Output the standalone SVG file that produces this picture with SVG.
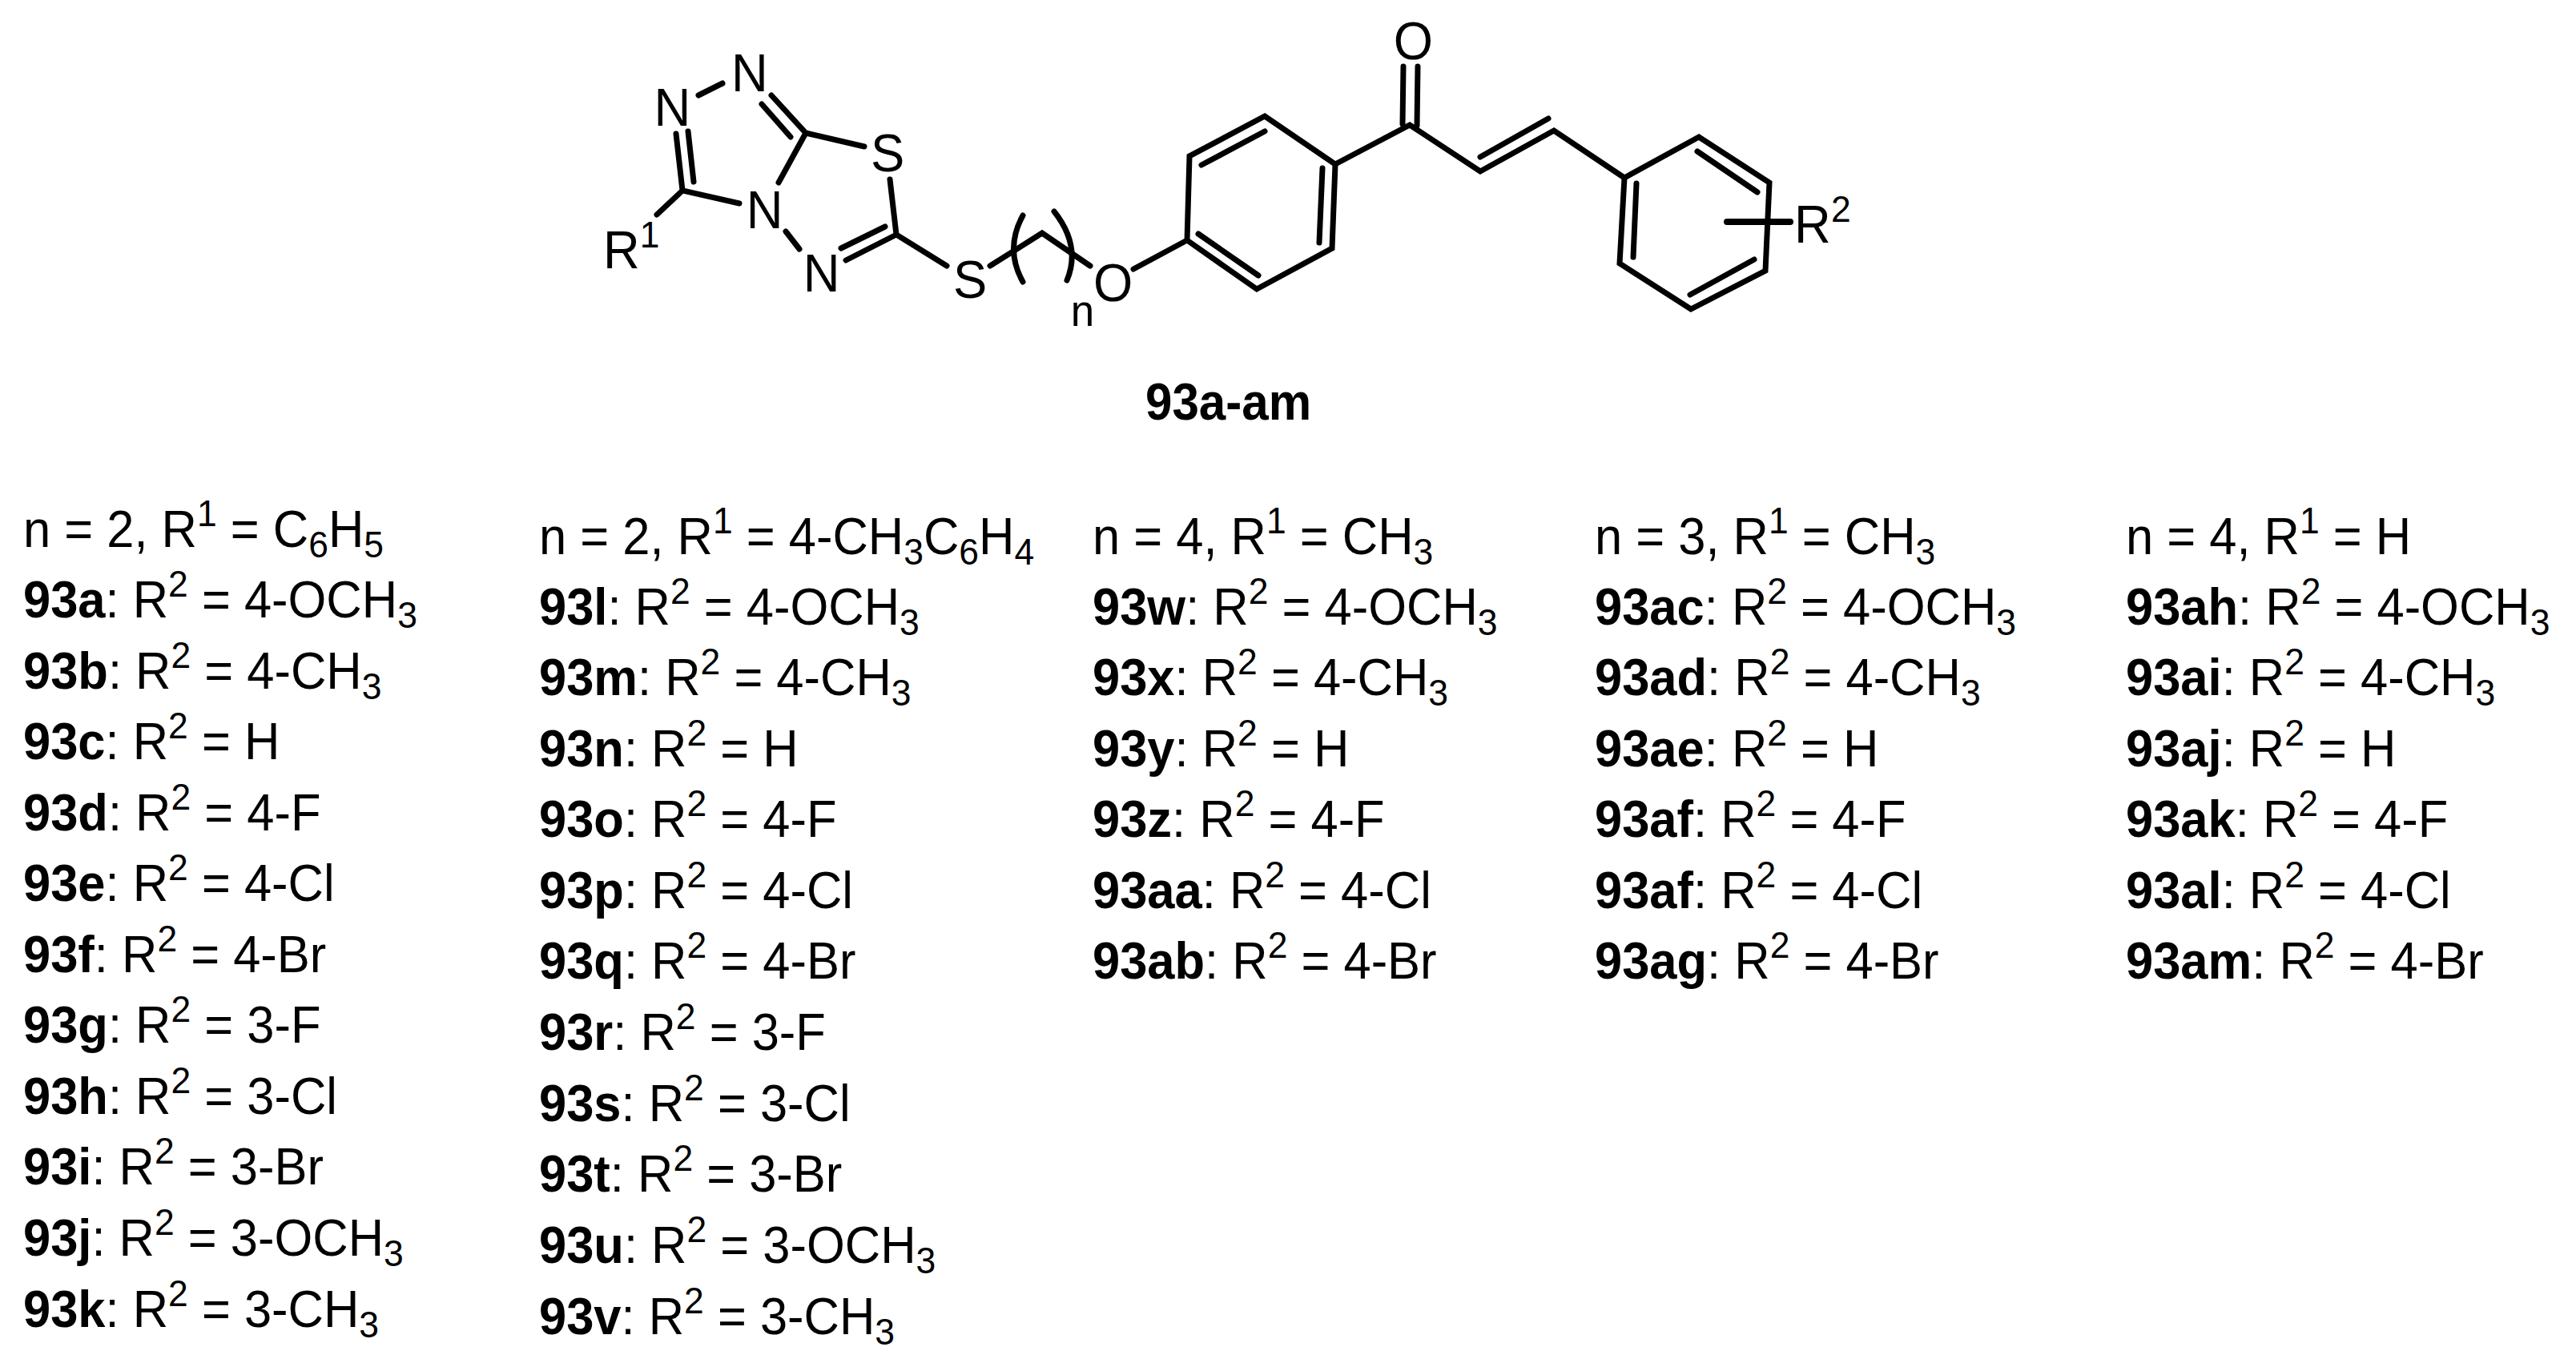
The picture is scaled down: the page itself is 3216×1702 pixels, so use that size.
<svg xmlns="http://www.w3.org/2000/svg" width="3216" height="1702" viewBox="0 0 3216 1702">
<style>
text{font-family:"Liberation Sans",Arial,sans-serif;font-size:65px;fill:#000}
.a{font-size:67px}
.b{font-weight:bold}
.u{font-size:47px;baseline-shift:26px}
.d{font-size:47px;baseline-shift:-13px}
#bonds path{fill:none;stroke:#000;stroke-width:7;stroke-linecap:round;stroke-linejoin:miter}
#bonds path.h{stroke-width:8}
</style>
<rect width="3216" height="1702" fill="#fff"/>
<g id="bonds">
<path d="M872 119L902 104"/>
<path d="M963 119L1006 166L1079 183M951 130L987 171M1006 166L972 228"/>
<path d="M844 167L852 238L923 254M859 164L866 227M852 238L820 268"/>
<path d="M981 289L998 311M1056 325L1119 293M1050 310L1105 283M1111 224L1119 293L1182 332"/>
<path d="M1236 332L1301 291L1361 332"/>
<path d="M1277 269Q1254 311 1277 352M1316 264Q1350 307 1332 350"/>
<path d="M1415 336L1482 300L1485 195L1579 145L1667 205L1663 310L1569 361L1482 300"/>
<path d="M1500 206L1579 164M1651 210L1647 303M1496 292L1571 344"/>
<path d="M1667 205L1760 156L1848 214L1940 163L2028 222M1848 196L1933 148M1752 83L1751 155M1770 83L1769 157"/>
<path d="M2028 222L2121 171L2209 228L2204 338L2111 386L2022 329Z"/>
<path d="M2043 229L2039 321M2119 189L2194 240M2190 324L2110 368"/>
<path class="h" d="M2156 277L2235 277"/>
</g>
<g id="atoms" transform="scale(.946 1)">
<text id="n1" class="a" x="863" y="157">N</text>
<text id="n2" class="a" x="965" y="114">N</text>
<text id="s1" class="a" x="1149" y="214">S</text>
<text id="n3" class="a" x="985" y="285">N</text>
<text id="n4" class="a" x="1060" y="364">N</text>
<text id="r1" class="a" x="796" y="335">R<tspan class="u">1</tspan></text>
<text id="s2" class="a" x="1258" y="372">S</text>
<text id="o1" class="a" x="1443" y="376">O</text>
<text id="n" x="1413" y="407" style="font-size:56px">n</text>
<text id="o2" class="a" x="1839" y="74">O</text>
<text id="r2" class="a" x="2368" y="303">R<tspan class="u">2</tspan></text>
</g>
<g id="title-label" transform="translate(1430 0) scale(.925 1)"><text id="title" class="b" x="0" y="524">93a-am</text></g>
<g id="col1" transform="translate(29 0) scale(.946 1)">
<text x="0" y="683">n = 2, R<tspan class="u">1</tspan> = C<tspan class="d">6</tspan>H<tspan class="d">5</tspan></text>
<text x="0" y="771"><tspan class="b">93a</tspan>: R<tspan class="u">2</tspan> = 4-OCH<tspan class="d">3</tspan></text>
<text x="0" y="860"><tspan class="b">93b</tspan>: R<tspan class="u">2</tspan> = 4-CH<tspan class="d">3</tspan></text>
<text x="0" y="948"><tspan class="b">93c</tspan>: R<tspan class="u">2</tspan> = H</text>
<text x="0" y="1037"><tspan class="b">93d</tspan>: R<tspan class="u">2</tspan> = 4-F</text>
<text x="0" y="1125"><tspan class="b">93e</tspan>: R<tspan class="u">2</tspan> = 4-Cl</text>
<text x="0" y="1214"><tspan class="b">93f</tspan>: R<tspan class="u">2</tspan> = 4-Br</text>
<text x="0" y="1302"><tspan class="b">93g</tspan>: R<tspan class="u">2</tspan> = 3-F</text>
<text x="0" y="1391"><tspan class="b">93h</tspan>: R<tspan class="u">2</tspan> = 3-Cl</text>
<text x="0" y="1479"><tspan class="b">93i</tspan>: R<tspan class="u">2</tspan> = 3-Br</text>
<text x="0" y="1568"><tspan class="b">93j</tspan>: R<tspan class="u">2</tspan> = 3-OCH<tspan class="d">3</tspan></text>
<text x="0" y="1657"><tspan class="b">93k</tspan>: R<tspan class="u">2</tspan> = 3-CH<tspan class="d">3</tspan></text>
</g>
<g id="col2" transform="translate(673 0) scale(.946 1)">
<text x="0" y="692">n = 2, R<tspan class="u">1</tspan> = 4-CH<tspan class="d">3</tspan>C<tspan class="d">6</tspan>H<tspan class="d">4</tspan></text>
<text x="0" y="780"><tspan class="b">93l</tspan>: R<tspan class="u">2</tspan> = 4-OCH<tspan class="d">3</tspan></text>
<text x="0" y="868"><tspan class="b">93m</tspan>: R<tspan class="u">2</tspan> = 4-CH<tspan class="d">3</tspan></text>
<text x="0" y="957"><tspan class="b">93n</tspan>: R<tspan class="u">2</tspan> = H</text>
<text x="0" y="1045"><tspan class="b">93o</tspan>: R<tspan class="u">2</tspan> = 4-F</text>
<text x="0" y="1134"><tspan class="b">93p</tspan>: R<tspan class="u">2</tspan> = 4-Cl</text>
<text x="0" y="1222"><tspan class="b">93q</tspan>: R<tspan class="u">2</tspan> = 4-Br</text>
<text x="0" y="1311"><tspan class="b">93r</tspan>: R<tspan class="u">2</tspan> = 3-F</text>
<text x="0" y="1400"><tspan class="b">93s</tspan>: R<tspan class="u">2</tspan> = 3-Cl</text>
<text x="0" y="1488"><tspan class="b">93t</tspan>: R<tspan class="u">2</tspan> = 3-Br</text>
<text x="0" y="1577"><tspan class="b">93u</tspan>: R<tspan class="u">2</tspan> = 3-OCH<tspan class="d">3</tspan></text>
<text x="0" y="1666"><tspan class="b">93v</tspan>: R<tspan class="u">2</tspan> = 3-CH<tspan class="d">3</tspan></text>
</g>
<g id="col3" transform="translate(1364 0) scale(.946 1)">
<text x="0" y="692">n = 4, R<tspan class="u">1</tspan> = CH<tspan class="d">3</tspan></text>
<text x="0" y="780"><tspan class="b">93w</tspan>: R<tspan class="u">2</tspan> = 4-OCH<tspan class="d">3</tspan></text>
<text x="0" y="868"><tspan class="b">93x</tspan>: R<tspan class="u">2</tspan> = 4-CH<tspan class="d">3</tspan></text>
<text x="0" y="957"><tspan class="b">93y</tspan>: R<tspan class="u">2</tspan> = H</text>
<text x="0" y="1045"><tspan class="b">93z</tspan>: R<tspan class="u">2</tspan> = 4-F</text>
<text x="0" y="1134"><tspan class="b">93aa</tspan>: R<tspan class="u">2</tspan> = 4-Cl</text>
<text x="0" y="1222"><tspan class="b">93ab</tspan>: R<tspan class="u">2</tspan> = 4-Br</text>
</g>
<g id="col4" transform="translate(1991 0) scale(.946 1)">
<text x="0" y="692">n = 3, R<tspan class="u">1</tspan> = CH<tspan class="d">3</tspan></text>
<text x="0" y="780"><tspan class="b">93ac</tspan>: R<tspan class="u">2</tspan> = 4-OCH<tspan class="d">3</tspan></text>
<text x="0" y="868"><tspan class="b">93ad</tspan>: R<tspan class="u">2</tspan> = 4-CH<tspan class="d">3</tspan></text>
<text x="0" y="957"><tspan class="b">93ae</tspan>: R<tspan class="u">2</tspan> = H</text>
<text x="0" y="1045"><tspan class="b">93af</tspan>: R<tspan class="u">2</tspan> = 4-F</text>
<text x="0" y="1134"><tspan class="b">93af</tspan>: R<tspan class="u">2</tspan> = 4-Cl</text>
<text x="0" y="1222"><tspan class="b">93ag</tspan>: R<tspan class="u">2</tspan> = 4-Br</text>
</g>
<g id="col5" transform="translate(2654 0) scale(.946 1)">
<text x="0" y="692">n = 4, R<tspan class="u">1</tspan> = H</text>
<text x="0" y="780"><tspan class="b">93ah</tspan>: R<tspan class="u">2</tspan> = 4-OCH<tspan class="d">3</tspan></text>
<text x="0" y="868"><tspan class="b">93ai</tspan>: R<tspan class="u">2</tspan> = 4-CH<tspan class="d">3</tspan></text>
<text x="0" y="957"><tspan class="b">93aj</tspan>: R<tspan class="u">2</tspan> = H</text>
<text x="0" y="1045"><tspan class="b">93ak</tspan>: R<tspan class="u">2</tspan> = 4-F</text>
<text x="0" y="1134"><tspan class="b">93al</tspan>: R<tspan class="u">2</tspan> = 4-Cl</text>
<text x="0" y="1222"><tspan class="b">93am</tspan>: R<tspan class="u">2</tspan> = 4-Br</text>
</g>
</svg>
